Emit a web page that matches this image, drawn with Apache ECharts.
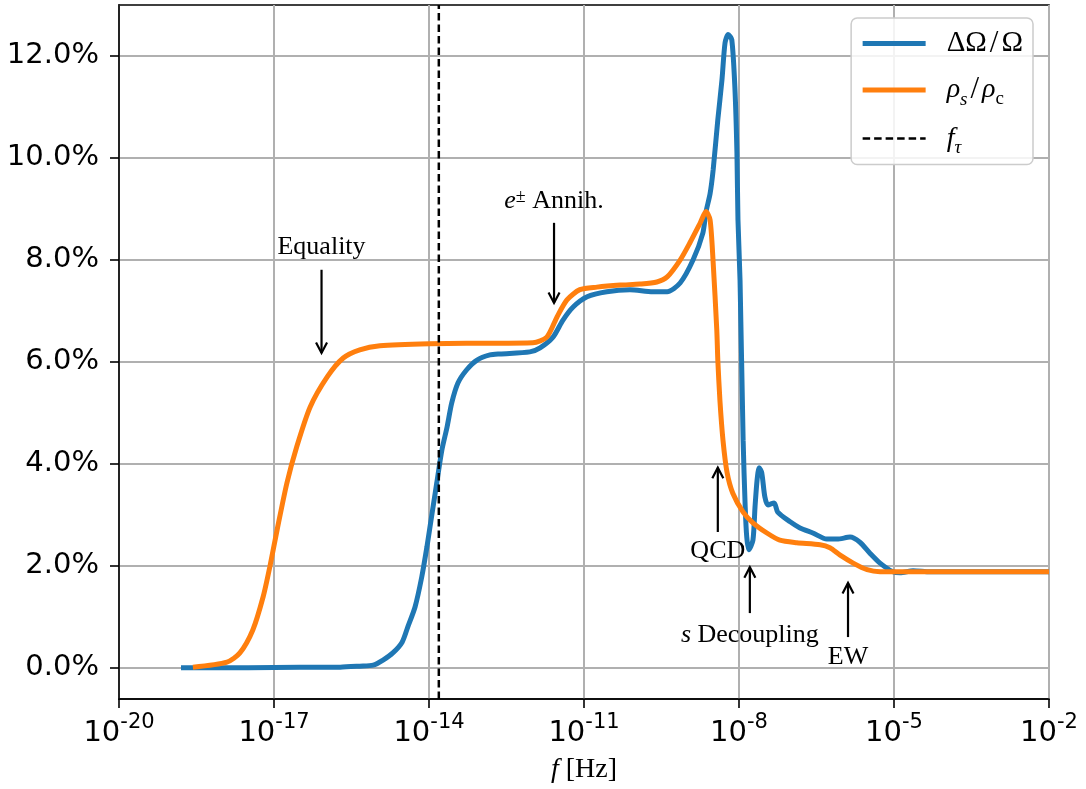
<!DOCTYPE html>
<html><head><meta charset="utf-8">
<script src="https://cdn.jsdelivr.net/npm/echarts@6/dist/echarts.min.js"></script>
<style>html,body{margin:0;padding:0;background:#fff}#c{width:1086px;height:789px}</style>
</head><body><div id="c"></div>
<script>
// x values are log10(f / Hz); y values are percent
const blueLogF = [-18.80,-17.5,-16.5,-15.72,-15.34,-15.08,-14.89,-14.70,-14.52,-14.41,-14.27,-14.14,-14.04,-13.94,-13.85,-13.75,-13.65,-13.56,-13.44,-13.27,-13.07,-12.82,-12.63,-12.05,-11.85,-11.60,-11.41,-11.21,-10.94,-10.56,-10.11,-9.67,-9.39,-9.14,-8.89,-8.70,-8.64,-8.56,-8.50,-8.41,-8.33,-8.27,-8.21,-8.14,-8.08,-8.04,-8.02,-7.98,-7.92,-7.88,-7.85,-7.81,-7.73,-7.69,-7.65,-7.61,-7.56,-7.50,-7.44,-7.32,-7.25,-7.01,-6.82,-6.57,-6.30,-6.10,-5.85,-5.66,-5.47,-5.27,-5.02,-4.88,-4.63,-4.3,-3.5,-2.0];
const blueVal = [0.0,0.0,0.01,0.01,0.03,0.05,0.15,0.29,0.50,0.80,1.19,1.78,2.37,3.03,3.62,4.27,4.72,5.19,5.58,5.84,6.03,6.13,6.15,6.19,6.27,6.48,6.81,7.07,7.27,7.37,7.41,7.37,7.37,7.54,7.99,8.52,8.93,9.29,9.76,10.74,11.52,12.25,12.41,12.31,11.38,10.09,8.78,7.60,4.46,3.15,2.56,2.31,2.50,3.15,3.68,3.92,3.82,3.35,3.19,3.23,3.05,2.86,2.74,2.64,2.52,2.52,2.56,2.46,2.25,2.05,1.88,1.86,1.90,1.88,1.88,1.88];
const orangeLogF = [-18.57,-17.91,-17.66,-17.41,-17.21,-17.08,-16.94,-16.75,-16.56,-16.30,-15.97,-15.66,-15.34,-14.95,-14.0,-13.0,-11.99,-11.72,-11.52,-11.33,-11.08,-10.75,-10.30,-9.92,-9.59,-9.39,-9.14,-8.95,-8.75,-8.64,-8.56,-8.50,-8.43,-8.41,-8.37,-8.31,-8.23,-8.12,-7.92,-7.73,-7.46,-7.21,-6.88,-6.43,-6.24,-6.05,-5.79,-5.52,-5.27,-4.88,-2.0];
const orangeVal = [0.01,0.11,0.29,0.74,1.39,1.98,2.70,3.62,4.33,5.11,5.70,6.07,6.23,6.31,6.35,6.36,6.37,6.48,6.88,7.21,7.41,7.46,7.50,7.52,7.56,7.66,7.99,8.33,8.72,8.94,8.78,7.94,6.62,6.03,5.25,4.46,3.82,3.42,3.05,2.84,2.64,2.50,2.45,2.41,2.35,2.21,2.05,1.92,1.88,1.88,1.88];
const fTauLogF = -13.81;
const xTicks = [-20,-17,-14,-11,-8,-5,-2];
const yTicks = [0,2,4,6,8,10,12];
const seriesNames = ['ΔΩ/Ω','ρs/ρc','fτ'];
const legendRich = ['{g| }{r|ΔΩ}{sl|/}{r|Ω}','{g| }{i|ρ}{sub|s}{sl|/}{i|ρ}{subr|c}','{g| }{i|f}{sub|τ}'];
const annLabels = ['{r|Equality}','{i|e}{sup|±}{r| Annih.}','{r|QCD}','{i|s}{r| Decoupling}','{r|EW}'];
const annX = [-16.08,-11.58,-8.41,-7.79,-5.89];
const annTextY = [8.25,9.15,2.29,0.64,0.21];
const annTailY = [7.80,8.72,2.66,1.07,0.60];
const annHeadY = [6.17,7.15,3.92,1.97,1.66];

const Y_MIN = -0.614, Y_MAX = 12.99;
const SERIF = 'Liberation Serif';
const annRich = {
  r:{fontFamily:SERIF,fontSize:26,color:'#000'},
  i:{fontFamily:SERIF,fontStyle:'italic',fontSize:26,color:'#000'},
  sup:{fontFamily:SERIF,fontSize:18,color:'#000',verticalAlign:'top',lineHeight:16},
};
const chart = echarts.init(document.getElementById('c'), null, {renderer:'canvas'});
chart.setOption({
  backgroundColor:'#fff',
  animation:false,
  grid:{left:119,right:37,top:5,bottom:90,show:true,borderColor:'#000',borderWidth:1.6,backgroundColor:'transparent'},
  xAxis:{type:'value',min:-20,max:-2,interval:3,
    axisLine:{show:true,onZero:false,lineStyle:{color:'#000',width:1.6}},
    axisTick:{show:true,length:9,lineStyle:{color:'#000',width:1.6}},
    splitLine:{show:true,lineStyle:{color:'#b0b0b0',width:2}},
    axisLabel:{margin:13,formatter:v=>'{b|10}{s|'+v+'}',
      rich:{b:{fontFamily:'DejaVu Sans',fontSize:29,color:'#000',lineHeight:36,verticalAlign:'bottom'},
            s:{fontFamily:'DejaVu Sans',fontSize:21,color:'#000',lineHeight:20,verticalAlign:'top'}}},
    name:'{i|f}{r| [Hz]}',nameLocation:'middle',nameGap:57,
    nameTextStyle:{rich:{i:{fontFamily:SERIF,fontStyle:'italic',fontSize:28,color:'#000'},r:{fontFamily:SERIF,fontSize:28,color:'#000'}}}
  },
  yAxis:{type:'value',min:Y_MIN,max:Y_MAX,
    axisLine:{show:true,onZero:false,lineStyle:{color:'#000',width:1.6}},
    axisTick:{show:true,length:9,customValues:yTicks,lineStyle:{color:'#000',width:1.6}},
    splitLine:{show:true,lineStyle:{color:'#b0b0b0',width:2}},
    axisLabel:{customValues:yTicks,margin:20,fontFamily:'DejaVu Sans',fontSize:29,color:'#000',formatter:v=>v.toFixed(1)+'%'}
  },
  legend:{data:seriesNames,orient:'vertical',right:53,top:18,
    padding:[10,10,7,9],itemGap:15.5,itemWidth:63,itemHeight:10,
    backgroundColor:'rgba(255,255,255,0.85)',borderColor:'#cccccc',borderWidth:1.5,borderRadius:6,
    lineStyle:{width:'inherit'},
    itemStyle:{opacity:0},
    formatter:name=>legendRich[seriesNames.indexOf(name)],
    textStyle:{rich:{
      g:{width:16},
      r:{fontFamily:SERIF,fontSize:29,color:'#000',lineHeight:30},
      sl:{fontFamily:SERIF,fontSize:31,color:'#000',lineHeight:30,padding:[0,3,0,3]},
      i:{fontFamily:SERIF,fontStyle:'italic',fontSize:28,color:'#000',lineHeight:30},
      sub:{fontFamily:SERIF,fontStyle:'italic',fontSize:19,color:'#000',lineHeight:19,verticalAlign:'bottom',padding:[0,0,-4,0]},
      subr:{fontFamily:SERIF,fontSize:19,color:'#000',lineHeight:19,verticalAlign:'bottom',padding:[0,0,-4,0]}
    }}
  },
  series:[
    {name:seriesNames[0],type:'line',data:blueLogF.map((x,i)=>[x,blueVal[i]]),symbol:'none',smooth:0.25,
      lineStyle:{color:'#1f77b4',width:5},itemStyle:{color:'#1f77b4'},z:2},
    {name:seriesNames[1],type:'line',data:orangeLogF.map((x,i)=>[x,orangeVal[i]]),symbol:'none',smooth:0.25,
      lineStyle:{color:'#ff7f0e',width:5},itemStyle:{color:'#ff7f0e'},z:3},
    {name:seriesNames[2],type:'line',data:[[fTauLogF,Y_MIN],[fTauLogF,Y_MAX]],symbol:'none',
      lineStyle:{color:'#000',width:2.5,type:[7.5,4]},itemStyle:{color:'#000'},z:4},
    {name:'annotations',type:'custom',clip:false,z:5,
      data:annX.map((x,i)=>[x,annHeadY[i]]),encode:{x:0,y:1},
      renderItem:(params,api)=>{
        const i=params.dataIndex;
        const t=api.coord([annX[i],annTextY[i]]);
        const a=api.coord([annX[i],annTailY[i]]);
        const h=api.coord([annX[i],annHeadY[i]]);
        const dir=Math.sign(h[1]-a[1]);
        const hl=10.5,hw=5.5;
        return {type:'group',children:[
          {type:'line',shape:{x1:a[0],y1:a[1],x2:h[0],y2:h[1]},style:{stroke:'#000',lineWidth:2.2}},
          {type:'polyline',shape:{points:[[h[0]-hw,h[1]-dir*hl],[h[0],h[1]],[h[0]+hw,h[1]-dir*hl]]},style:{stroke:'#000',fill:'none',lineWidth:2.2}},
          {type:'text',x:t[0],y:t[1],style:{text:annLabels[i],align:'center',verticalAlign:'middle',rich:annRich,fill:'#000'}}
        ]};
      }
    }
  ]
});
</script></body></html>
